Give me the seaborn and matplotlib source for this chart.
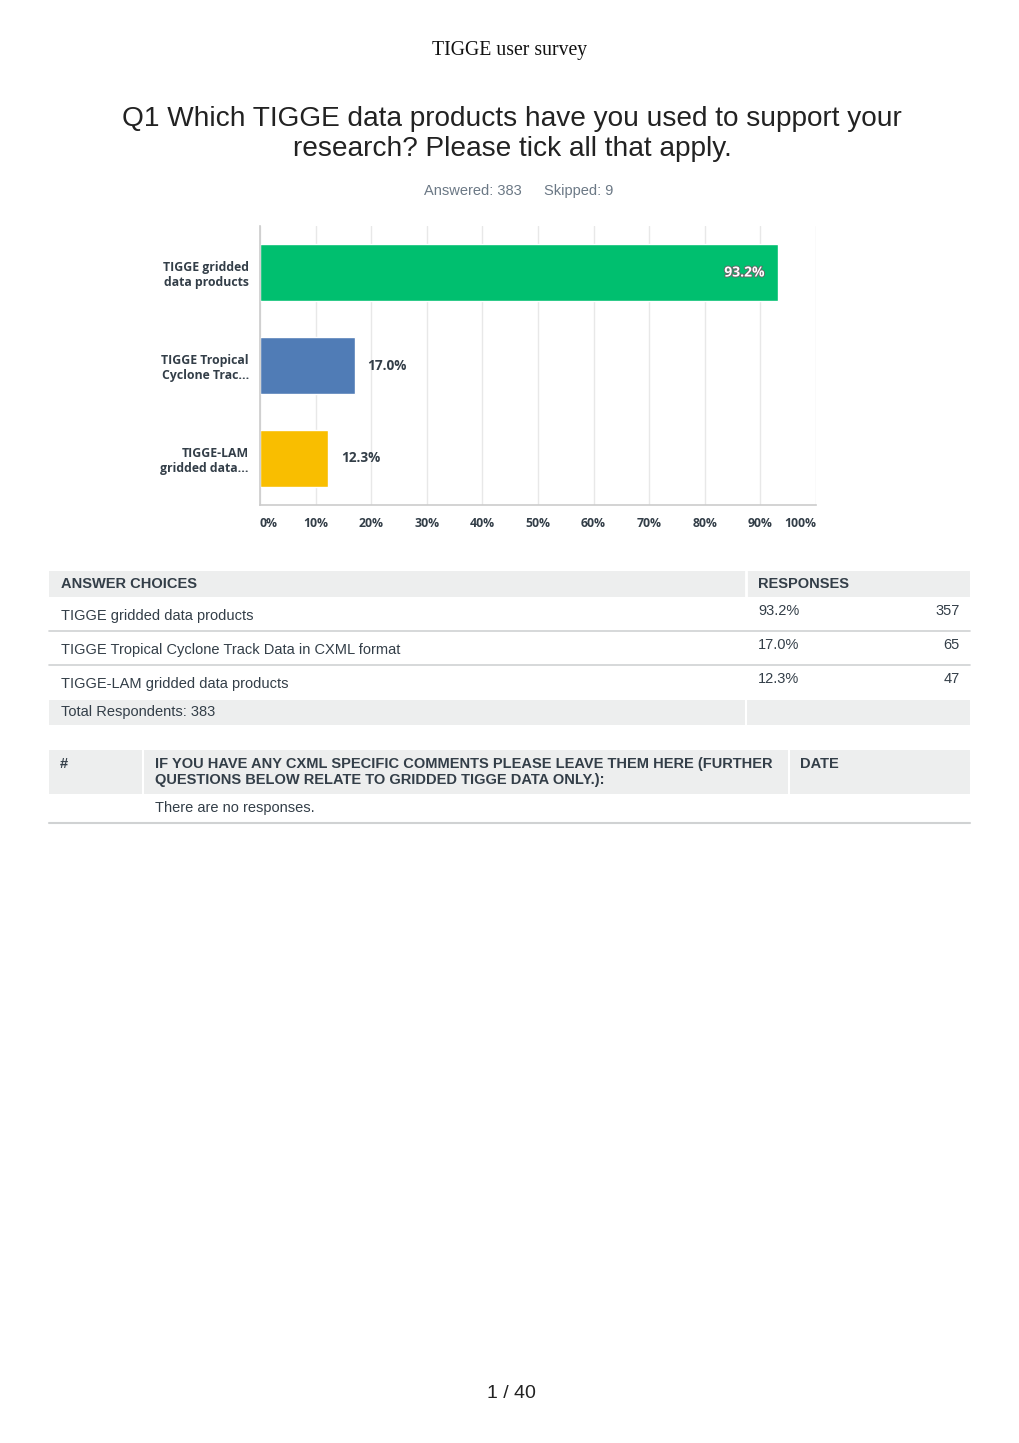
import matplotlib
matplotlib.use("Agg")
import matplotlib.pyplot as plt
import matplotlib.patheffects as pe
from matplotlib.patches import Rectangle
import seaborn as sns

# --- data ---
bar_labels = ["TIGGE gridded\ndata products", "TIGGE Tropical\nCyclone Trac...", "TIGGE-LAM\ngridded data..."]
choices = ["TIGGE gridded data products",
           "TIGGE Tropical Cyclone Track Data in CXML format",
           "TIGGE-LAM gridded data products"]
pcts = [93.2, 17.0, 12.3]
counts = [357, 65, 47]
colors = ["#00BF6F", "#507CB6", "#F9BE00"]
xticks = list(range(0, 101, 10))
answered = 383
skipped = 9

TXT = "#333E48"
GRAY_BG = "#EDEEEE"
LINE = "#D0D2D3"

sns.set_style("white")
plt.rcParams["font.family"] = ["Liberation Sans", "DejaVu Sans"]

fig = plt.figure(figsize=(10.2, 14.43), dpi=100)

# background axes in pixel coordinates for page text and tables
bg = fig.add_axes([0, 0, 1, 1])
bg.set_xlim(0, 1020)
bg.set_ylim(1443, 0)
bg.axis("off")

bg.text(510, 50, "TIGGE user survey", family="Liberation Serif", fontsize=14.2,
        ha="center", va="center", color="#111111")
bg.text(512, 134, "Q1 Which TIGGE data products have you used to support your\nresearch? Please tick all that apply.",
        fontsize=20.2, ha="center", va="center", color="#222222", linespacing=1.25)
bg.text(473, 191, f"Answered: {answered}", fontsize=10.5, ha="center", va="center", color="#6B7885")
bg.text(579, 191, f"Skipped: {skipped}", fontsize=10.5, ha="center", va="center", color="#6B7885")
bg.text(511, 1393, "1 / 40", fontsize=14, ha="center", va="center", color="#222222")

# --- table 1 ---
L, R, MID = 49, 970, 746
bg.add_patch(Rectangle((L, 571), R - L, 26, color=GRAY_BG, lw=0))
bg.plot([MID, MID], [571, 597], color="white", lw=2)
bg.text(61, 584, "ANSWER CHOICES", fontsize=10.5, weight="bold", color=TXT, va="center")
bg.text(758, 584, "RESPONSES", fontsize=10.5, weight="bold", color=TXT, va="center")
row_top = 598
for i, (c, p, n) in enumerate(zip(choices, pcts, counts)):
    y0 = row_top + i * 34
    bg.text(61, y0 + 18, c, fontsize=10.5, color=TXT, va="center")
    bg.text(758, y0 + 13, f"{p:.1f}%", fontsize=10.5, color=TXT, va="center")
    bg.text(960, y0 + 13, f"{n}", fontsize=10.5, color=TXT, va="center", ha="right")
    if i < 2:
        bg.plot([L, R], [y0 + 33, y0 + 33], color=LINE, lw=1.2)
bg.add_patch(Rectangle((L, 700), MID - L - 1, 25, color=GRAY_BG, lw=0))
bg.add_patch(Rectangle((MID + 1, 700), R - MID - 1, 25, color=GRAY_BG, lw=0))
bg.text(61, 712, f"Total Respondents: {answered}", fontsize=10.5, color=TXT, va="center")

# --- table 2 ---
c1, c2 = 142, 788
for x0, x1 in [(L, c1), (c1 + 2, c2), (c2 + 2, R)]:
    bg.add_patch(Rectangle((x0, 750), x1 - x0, 44, color=GRAY_BG, lw=0))
bg.text(60, 764, "#", fontsize=10.5, weight="bold", color=TXT, va="center")
bg.text(155, 772, "IF YOU HAVE ANY CXML SPECIFIC COMMENTS PLEASE LEAVE THEM HERE (FURTHER\nQUESTIONS BELOW RELATE TO GRIDDED TIGGE DATA ONLY.):",
        fontsize=10.5, weight="bold", color=TXT, va="center", linespacing=1.25)
bg.text(800, 764, "DATE", fontsize=10.5, weight="bold", color=TXT, va="center")
bg.text(155, 808, "There are no responses.", fontsize=10.5, color=TXT, va="center")
bg.plot([L, R], [823, 823], color=LINE, lw=1.5)

# --- bar chart ---
ax = fig.add_axes([260 / 1020, 1 - 505 / 1443, 556 / 1020, 279 / 1443])
sns.barplot(x=pcts, y=bar_labels, hue=bar_labels, palette=colors, width=0.613,
            legend=False, ax=ax, saturation=1)
ax.set_xlim(0, 100)
ax.set_ylim(2.5, -0.5)
ax.set_xticks(xticks)
ax.set_xticklabels([f"{t}%" for t in xticks], fontsize=8.8, color=TXT,
                   family=["Open Sans", "DejaVu Sans"], weight="bold")
xl = ax.get_xticklabels()
xl[0].set_ha("left")
xl[-1].set_ha("right")
ax.tick_params(axis="x", length=0, pad=9)
ax.tick_params(axis="y", length=0, pad=8)
for t in ax.get_yticklabels():
    t.set_fontsize(8.8)
    t.set_color(TXT)
    t.set_family(["Open Sans", "DejaVu Sans"])
    t.set_weight("bold")
    t.set_multialignment("right")
ax.grid(axis="x", color="#E8E8E8", lw=1)
ax.set_axisbelow(True)
for s in ["top", "right"]:
    ax.spines[s].set_visible(False)
for s in ["left", "bottom"]:
    ax.spines[s].set_color("#CCCCCC")
    ax.spines[s].set_linewidth(1.2)
ax.set_xlabel("")
ax.set_ylabel("")

for i, p in enumerate(pcts):
    if p > 50:
        ax.text(p - 2.5, i, f"{p:.1f}%", ha="right", va="center", fontsize=10,
                color="white", weight="bold", family=["Open Sans", "DejaVu Sans"],
                path_effects=[pe.withStroke(linewidth=1.3, foreground="#666666")])
    else:
        ax.text(p + 2.3, i, f"{p:.1f}%", ha="left", va="center", fontsize=9.8,
                color=TXT, weight="bold", family=["Open Sans", "DejaVu Sans"])

fig.savefig("out.png", dpi=100)
